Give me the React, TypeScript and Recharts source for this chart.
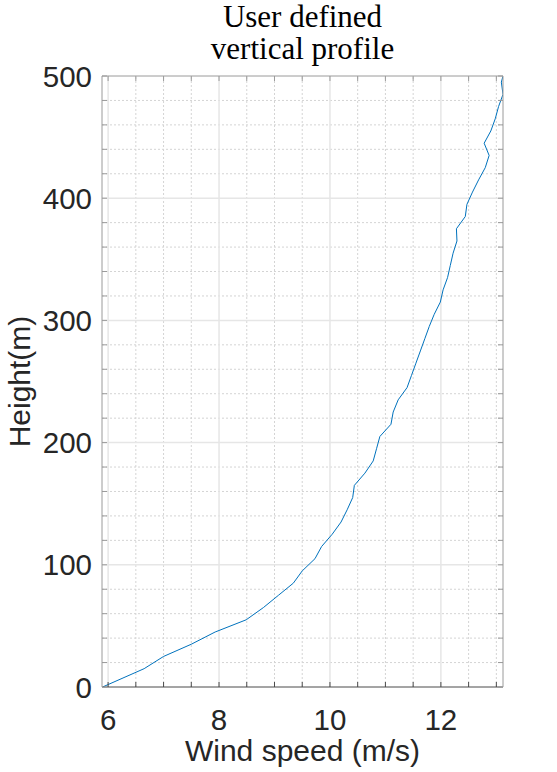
import { Line, LineChart, ReferenceLine, XAxis, YAxis } from "recharts";

// wind profile: height (m) against wind speed (m/s)
const heights = [
  0, 15, 25, 35, 45, 55, 65, 75, 85, 95, 105, 115, 125, 135, 145, 155, 165, 175,
  185, 195, 205, 215, 225, 235, 245, 255, 265, 275, 285, 295, 305, 315, 325, 335,
  345, 355, 365, 375, 385, 395, 405, 415, 425, 435, 445, 455, 465, 475, 485, 495, 500,
];
const speeds = [
  5.9, 6.65, 7.0, 7.5, 7.93, 8.49, 8.8, 9.07, 9.34, 9.5, 9.73, 9.85, 10.04, 10.2,
  10.31, 10.41, 10.44, 10.63, 10.78, 10.84, 10.9, 11.1, 11.14, 11.23, 11.39, 11.47,
  11.55, 11.63, 11.71, 11.79, 11.88, 11.99, 12.04, 12.12, 12.17, 12.22, 12.29, 12.28,
  12.44, 12.47, 12.57, 12.68, 12.8, 12.87, 12.78, 12.9, 12.98, 13.04, 13.12, 13.09, 13.12,
];

const xMajor = [6, 8, 10, 12];
const xMinor = [6.5, 7, 7.5, 8.5, 9, 9.5, 10.5, 11, 11.5, 12.5, 13];
const xTicks = [6, 6.5, 7, 7.5, 8, 8.5, 9, 9.5, 10, 10.5, 11, 11.5, 12, 12.5, 13];
const yMajor = [0, 100, 200, 300, 400, 500];
const yMinor = [20, 40, 60, 80, 120, 140, 160, 180, 220, 240, 260, 280, 320, 340, 360, 380, 420, 440, 460, 480];
const yTicks = [
  0, 20, 40, 60, 80, 100, 120, 140, 160, 180, 200, 220, 240, 260, 280, 300, 320, 340,
  360, 380, 400, 420, 440, 460, 480, 500,
];

const data = heights.map((h, i) => ({ height: h, speed: speeds[i] }));

const xDomain: [number, number] = [5.89, 13.12];
const yDomain: [number, number] = [0, 500];

const font = "'Liberation Sans', Arial, Helvetica, sans-serif";
const frame = "#9a9a9a";
const majorGrid = "#e6e6e6";
const minorGrid = "#d4d4d4";

// only the major ticks get a label, minor ticks stay bare
const XTick = (props: any) => {
  const { x, y, payload } = props;
  if (!xMajor.includes(payload.value)) return <g />;
  return (
    <text x={x} y={y + 21} textAnchor="middle" fill="#262626" fontSize={29.5} fontFamily={font}>
      {payload.value}
    </text>
  );
};

const YTick = (props: any) => {
  const { x, y, payload } = props;
  if (!yMajor.includes(payload.value)) return <g />;
  return (
    <text x={x} y={y + 10.5} textAnchor="end" fill="#262626" fontSize={29.5} fontFamily={font}>
      {payload.value}
    </text>
  );
};

const XLabel = (props: any) => {
  const vb = props.viewBox || { x: 0, y: 0, width: 0, height: 0 };
  return (
    <text
      x={vb.x + vb.width / 2}
      y={vb.y + 74}
      textAnchor="middle"
      fill="#262626"
      fontSize={30}
      fontFamily={font}
    >
      Wind speed (m/s)
    </text>
  );
};

const YLabel = (props: any) => {
  const vb = props.viewBox || { x: 0, y: 0, width: 0, height: 0 };
  const cx = vb.x + 30;
  const cy = vb.y + vb.height / 2;
  return (
    <text
      x={cx}
      y={cy}
      transform={`rotate(-90 ${cx} ${cy})`}
      textAnchor="middle"
      fill="#262626"
      fontSize={30}
      fontFamily={font}
    >
      Height(m)
    </text>
  );
};

export default function App() {
  return (
    <div style={{ position: "absolute", left: 0, top: 0, width: 557, height: 772, background: "#fff" }}>
      <div
        style={{
          position: "absolute",
          left: 102,
          top: 1,
          width: 401,
          textAlign: "center",
          fontFamily: "'Liberation Serif', 'DejaVu Serif', serif",
          fontSize: 31,
          lineHeight: "32px",
          color: "#000",
        }}
      >
        User defined
        <br />
        vertical profile
      </div>
      <LineChart
        width={557}
        height={772}
        data={data}
        margin={{ top: 75, right: 53, bottom: 0, left: 0 }}
      >
        <XAxis
          xAxisId="b"
          type="number"
          dataKey="speed"
          domain={xDomain}
          allowDataOverflow
          ticks={xTicks}
          interval={0}
          tick={<XTick />}
          tickSize={-5}
          tickMargin={27}
          height={85}
          stroke="#4a4a4a"
          label={<XLabel />}
        />
        <XAxis
          xAxisId="t"
          orientation="top"
          type="number"
          dataKey="speed"
          domain={xDomain}
          allowDataOverflow
          ticks={xTicks}
          interval={0}
          tick={<g />}
          tickSize={-5}
          height={1}
          stroke={frame}
        />
        <YAxis
          yAxisId="l"
          type="number"
          dataKey="height"
          domain={yDomain}
          allowDataOverflow
          ticks={yTicks}
          interval={0}
          tick={<YTick />}
          tickSize={-5}
          tickMargin={15}
          width={102}
          stroke={frame}
          label={<YLabel />}
        />
        <YAxis
          yAxisId="r"
          orientation="right"
          type="number"
          domain={yDomain}
          allowDataOverflow
          ticks={yTicks}
          interval={0}
          tick={<g />}
          tickSize={-5}
          width={1}
          stroke={frame}
        />
        {xMinor.map((v) => (
          <ReferenceLine key={`xm${v}`} xAxisId="b" yAxisId="l" x={v} stroke={minorGrid} strokeDasharray="2 2" />
        ))}
        {yMinor.map((v) => (
          <ReferenceLine key={`ym${v}`} xAxisId="b" yAxisId="l" y={v} stroke={minorGrid} strokeDasharray="2 2" />
        ))}
        {xMajor.map((v) => (
          <ReferenceLine key={`xM${v}`} xAxisId="b" yAxisId="l" x={v} stroke={majorGrid} strokeWidth={1.5} />
        ))}
        {yMajor.slice(1, -1).map((v) => (
          <ReferenceLine key={`yM${v}`} xAxisId="b" yAxisId="l" y={v} stroke={majorGrid} strokeWidth={1.5} />
        ))}
        <Line
          xAxisId="b"
          yAxisId="l"
          type="linear"
          dataKey="height"
          stroke="#0072BD"
          strokeWidth={1}
          dot={false}
          isAnimationActive={false}
        />
      </LineChart>
    </div>
  );
}
